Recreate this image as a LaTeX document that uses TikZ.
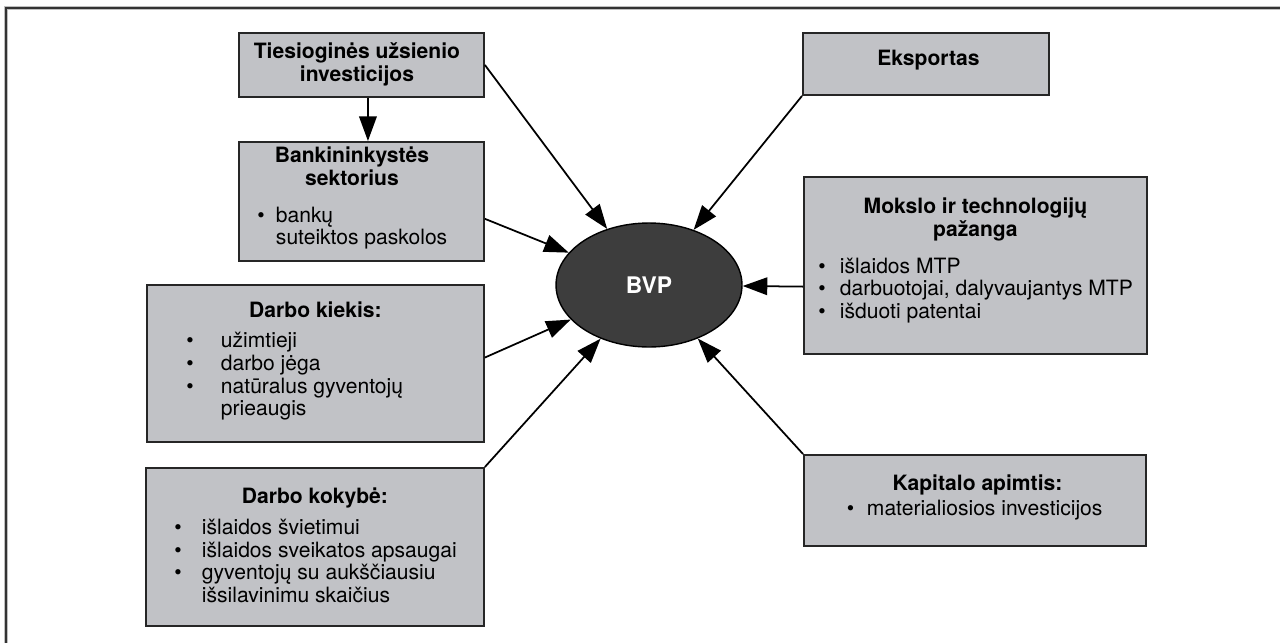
\documentclass[tikz,border=0pt]{standalone}
\usepackage{fontspec}
\setmainfont{TeX Gyre Heros}
\usetikzlibrary{arrows.meta,shapes.geometric}
\definecolor{boxgray}{RGB}{193,194,198}
\definecolor{ovalgray}{RGB}{61,61,61}
% box contents: width, height, top pad, text
\newcommand{\boxtext}[4]{\parbox[c][#2][t]{#1}{\vspace*{#3}#4}}
\newcommand{\boxtitle}[2]{\hspace*{#1}\parbox[t]{\dimexpr\linewidth-#1\relax}{\centering\bfseries\strut#2\strut}\par}
\newcommand{\boxlist}[3]{\hspace*{#1}\begin{tabular}[t]{@{}p{#2}@{}l@{}}#3\end{tabular}\par}
\begin{document}
\begin{tikzpicture}[x=0.02cm,y=-0.02cm,
    every node/.style={font=\fontsize{12}{12.9}\selectfont},
    box/.style={draw=black!85,line width=1.1pt,fill=boxgray,inner sep=0pt,anchor=north west},
    oval/.style={ellipse,draw=black,line width=0.8pt,fill=ovalgray,text=white,
      minimum width=3.72cm,minimum height=2.48cm,inner sep=0pt,
      font=\fontsize{13}{15}\selectfont\bfseries},
    link/.style={line width=1pt,-{Triangle[length=14pt,width=10pt]}}]
  \useasboundingbox (0,0) rectangle (1280,643);
  \draw[line width=2.4pt,black!25] (6,643) -- (6,8) -- (1280,8);
  \draw[line width=1.1pt,black!80] (6,643) -- (6,8) -- (1280,8);

  \node[oval] (bvp) at (649,285) {BVP};

  \node[box] (tui) at (238,32) {\boxtext{4.9cm}{1.28cm}{5.7pt}{%
      \boxtitle{-0.18cm}{Tiesioginės užsienio\\investicijos}}};
  \node[box] (bank) at (238,141) {\boxtext{4.9cm}{2.38cm}{2.9pt}{%
      \boxtitle{-0.38cm}{Bankininkystės\\sektorius}\vspace{7pt}
      \boxlist{0.37cm}{0.37cm}{\textbullet & bankų\\ & suteiktos paskolos}}};
  \node[box] (kiek) at (146,284) {\boxtext{6.74cm}{3.14cm}{9.7pt}{%
      \boxtitle{0cm}{Darbo kiekis:}\vspace{4.1pt}
      \boxlist{0.79cm}{0.69cm}{\textbullet & užimtieji\\ \textbullet & darbo jėga\\
        \textbullet & natūralus gyventojų\\ & prieaugis}}};
  \node[box] (kok) at (145,467) {\boxtext{6.76cm}{3.16cm}{11.4pt}{%
      \boxtitle{0cm}{Darbo kokybė:}\vspace{4.6pt}
      \boxlist{0.57cm}{0.55cm}{\textbullet & išlaidos švietimui\\ \textbullet & išlaidos sveikatos apsaugai\\
        \textbullet & gyventojų su aukščiausiu\\ & išsilavinimu skaičius}}};
  \node[box] (eks) at (802,32) {\boxtext{4.92cm}{1.24cm}{9.7pt}{%
      \boxtitle{0.1cm}{Eksportas}}};
  \node[box] (mtp) at (803,176) {\boxtext{6.86cm}{3.54cm}{12pt}{%
      \boxtitle{0cm}{Mokslo ir technologijų\\pažanga}\vspace{7pt}
      \boxlist{0.29cm}{0.43cm}{\textbullet & išlaidos MTP\\ \textbullet & darbuotojai, dalyvaujantys MTP\\
        \textbullet & išduoti patentai}}};
  \node[box] (kap) at (803,454) {\boxtext{6.84cm}{1.82cm}{11.4pt}{%
      \boxtitle{0.1cm}{Kapitalo apimtis:}\vspace{1pt}
      \boxlist{0.86cm}{0.4cm}{\textbullet & materialiosios investicijos}}};

  \draw[link] ([xshift=0.13cm]tui.south) -- ([xshift=0.13cm]bank.north);
  \draw[link] (tui.east) -- (bvp);
  \draw[link] (bank.-8) -- (bvp);
  \draw[link] (kiek.2) -- (bvp);
  \draw[link] (kok.north east) -- (bvp);
  \draw[link] (eks.south west) -- (bvp);
  \draw[link] (mtp.187) -- (bvp);
  \draw[link] (kap.north west) -- (bvp);
\end{tikzpicture}
\end{document}
